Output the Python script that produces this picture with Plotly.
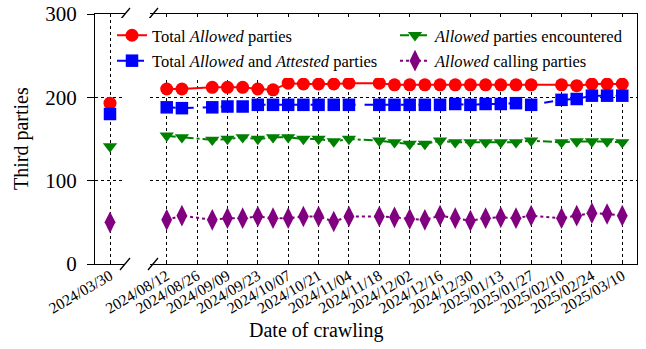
import plotly.graph_objects as go

# ---------------- data ----------------
first_date = ["2024-03-30"]
first_total_allowed = [193]
first_allowed_attested = [180]
first_encountered = [141]
first_calling = [50]

dates = ["2024-08-12", "2024-08-19", "2024-09-02", "2024-09-09", "2024-09-16",
         "2024-09-23", "2024-09-30", "2024-10-07", "2024-10-14", "2024-10-21",
         "2024-10-28", "2024-11-04", "2024-11-18", "2024-11-25", "2024-12-02",
         "2024-12-09", "2024-12-16", "2024-12-23", "2024-12-30", "2025-01-06",
         "2025-01-13", "2025-01-20", "2025-01-27", "2025-02-10", "2025-02-17",
         "2025-02-24", "2025-03-03", "2025-03-10"]
total_allowed = [210, 210, 212, 212, 212, 210, 209, 217, 216, 216, 216, 217, 217, 215,
                 215, 215, 215, 215, 215, 215, 215, 215, 215, 215, 214, 216, 216, 216]
allowed_attested = [188, 187, 188, 189, 189, 191, 191, 191, 191, 191, 191, 191, 191, 191,
                    191, 191, 191, 192, 191, 192, 192, 193, 191, 197, 198, 202, 202, 202]
encountered = [154, 152, 149, 150, 152, 150, 152, 152, 150, 150, 147, 150, 148, 146,
               144, 144, 148, 146, 146, 146, 146, 146, 148, 146, 147, 147, 147, 146]
calling = [53, 58, 53, 55, 55, 57, 55, 55, 57, 57, 51, 57, 57, 56,
           54, 53, 58, 55, 52, 55, 56, 55, 58, 55, 58, 61, 60, 58]

tick_dates = ["2024-08-12", "2024-08-26", "2024-09-09", "2024-09-23", "2024-10-07",
              "2024-10-21", "2024-11-04", "2024-11-18", "2024-12-02", "2024-12-16",
              "2024-12-30", "2025-01-13", "2025-01-27", "2025-02-10", "2025-02-24",
              "2025-03-10"]
y_ticks = [0, 100, 200, 300]

names = ["Total <i>Allowed</i> parties",
         "Total <i>Allowed</i> and <i>Attested</i> parties",
         "<i>Allowed</i> parties encountered",
         "<i>Allowed</i> calling parties"]

# ---------------- styles ----------------
FONT = "Liberation Serif"
styles = [
    dict(color="#ff0000", dash="solid", symbol="circle", size=13, legend="legend"),
    dict(color="#0000ff", dash="dash", symbol="square", size=12.5, legend="legend"),
    dict(color="#008000", dash="dashdot", symbol="triangle-down", size=12.5, legend="legend2"),
    dict(color="#800080", dash="dot", symbol="diamond-tall", size=15.5, legend="legend2"),
]
main_series = [total_allowed, allowed_attested, encountered, calling]
first_series = [first_total_allowed, first_allowed_attested, first_encountered, first_calling]

fig = go.Figure()
for i, (name, st, ys_main, ys_first) in enumerate(zip(names, styles, main_series, first_series)):
    fig.add_trace(go.Scatter(
        x=first_date, y=ys_first, xaxis="x", yaxis="y", mode="markers",
        marker=dict(color=st["color"], symbol=st["symbol"], size=st["size"]),
        showlegend=False))
    fig.add_trace(go.Scatter(
        x=dates, y=ys_main, xaxis="x2", yaxis="y2", mode="lines+markers",
        name=name, legend=st["legend"], legendgroup=f"g{i}",
        line=dict(color=st["color"], width=2, dash=st["dash"]),
        marker=dict(color=st["color"], symbol=st["symbol"], size=st["size"])))

# layout geometry (pixels)
W, H = 646, 349
L, R, T, B = 95, 9, 14, 85
pw = W - L - R
ph = H - T - B
p1_right = 125
p2_left = 150
d1 = [0, (p1_right - L) / pw]
d2 = [(p2_left - L) / pw, 1]

grid = dict(showgrid=True, gridcolor="black", gridwidth=1, griddash="dot")
tickfont_x = dict(size=15.5, family=FONT)

legend_common = dict(orientation="v", xanchor="left", yanchor="top",
                     bgcolor="white", borderwidth=0, font=dict(size=16.5, family=FONT),
                     itemwidth=30, traceorder="grouped", tracegroupgap=1)

fig.update_layout(
    width=W, height=H,
    margin=dict(l=L, r=R, t=T, b=B, autoexpand=False),
    plot_bgcolor="white", paper_bgcolor="white",
    font=dict(family=FONT, color="black"),
    xaxis=dict(domain=d1, type="date", range=["2024-03-23 02:00", "2024-04-05 22:00"],
               tickvals=first_date, tickformat="%Y/%m/%d", tickangle=-30,
               tickfont=tickfont_x, ticks="inside", ticklen=4, tickcolor="black",
               ticklabelstandoff=-4,
               showline=True, linecolor="black", linewidth=1.3, mirror=True,
               anchor="y", zeroline=False, **grid),
    xaxis2=dict(domain=d2, type="date", range=["2024-08-04 07:00", "2025-03-16 19:00"],
                tickvals=tick_dates, tickformat="%Y/%m/%d", tickangle=-30,
                tickfont=tickfont_x, ticks="inside", ticklen=4, tickcolor="black",
                ticklabelstandoff=-4,
                showline=True, linecolor="black", linewidth=1.3, mirror=True,
                anchor="y2", zeroline=False, **grid),
    yaxis=dict(range=[0, 300], tickvals=y_ticks, tickfont=dict(size=21, family=FONT),
               ticks="outside", ticklen=7, tickcolor="black", ticklabelstandoff=6,
               showline=True, linecolor="black", linewidth=1.3,
               anchor="x", zeroline=False, **grid),
    yaxis2=dict(range=[0, 300], tickvals=y_ticks, showticklabels=False, ticks="",
                side="right", showline=True, linecolor="black", linewidth=1.3,
                anchor="x2", matches="y", zeroline=False, **grid),
    legend=dict(x=(112 - L) / pw, y=(H - B - 18) / ph, **legend_common),
    legend2=dict(x=(395 - L) / pw, y=(H - B - 18) / ph, **legend_common),
)

# break marks
def px2paper(x, y):
    return (x - L) / pw, (H - B - y) / ph

breaks = [((120, 270), (130, 258)), ((120, 20), (130, 8)),
          ((148, 270), (158, 258)), ((148, 20), (158, 8))]
for (xa, ya), (xb, yb) in breaks:
    x0, y0 = px2paper(xa, ya)
    x1, y1 = px2paper(xb, yb)
    fig.add_shape(type="line", xref="paper", yref="paper", x0=x0, y0=y0, x1=x1, y1=y1,
                  line=dict(color="black", width=1.3))

# axis titles
fig.add_annotation(text="Date of crawling", xref="paper", yref="paper",
                   x=(316 - L) / pw, y=(H - B - 330) / ph, showarrow=False,
                   font=dict(size=20, family=FONT), xanchor="center", yanchor="middle")
fig.add_annotation(text="Third parties", xref="paper", yref="paper",
                   x=(21 - L) / pw, y=0.5, showarrow=False, textangle=-90,
                   font=dict(size=20, family=FONT), xanchor="center", yanchor="middle")

fig.write_html("out.html", config={"displayModeBar": False},
               post_script="document.body.style.margin='0';document.body.style.padding='0';")
